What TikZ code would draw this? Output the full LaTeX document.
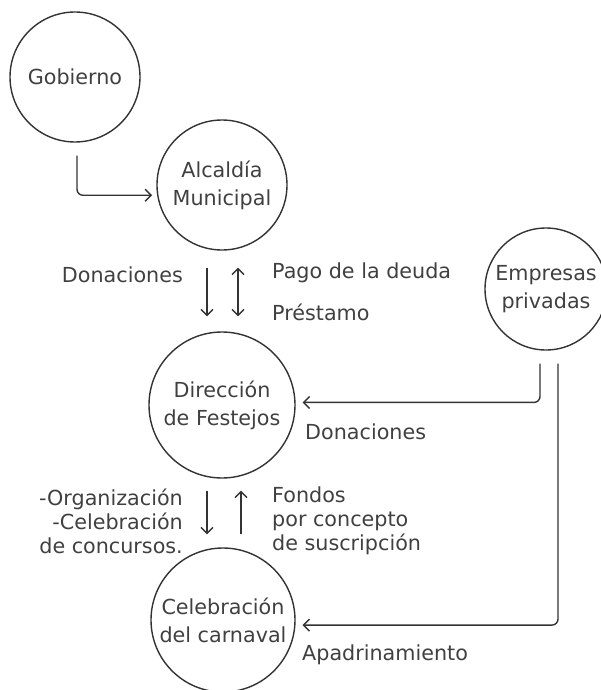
\documentclass[tikz,border=0pt]{standalone}
\usepackage{fontspec}
\setmainfont{DejaVu Sans}
\usetikzlibrary{arrows.meta}

\begin{document}
\begin{tikzpicture}[x=1pt,y=-1pt]
	\tikzset{every node/.style={font=\fontsize{20.7}{24}\selectfont,text=black!75}}
	\tikzset{entidad/.style={circle,draw=black!80,line width=1.4pt,inner sep=0pt,align=center,font=\fontsize{20.7}{28}\selectfont}}
	\tikzset{flujo/.style={draw=black!80,line width=1.4pt,-{Straight Barb[length=6pt,width=12pt]}}}
	\tikzset{flujodoble/.style={draw=black!80,line width=1.4pt,{Straight Barb[length=6pt,width=12pt]}-{Straight Barb[length=6pt,width=12pt]}}}
	\tikzset{rotulo/.style={inner sep=0pt,anchor=west,align=left}}
	\useasboundingbox (0,0) rectangle (601,690);
	\node[entidad,minimum size=130pt] (gobierno) at (75,77) {Gobierno};
	\node[entidad,minimum size=130pt] (alcaldia) at (222,185) {Alcaldía\\Municipal};
	\node[entidad,minimum size=122pt] (empresas) at (546,289) {Empresas\\privadas};
	\node[entidad,minimum size=146pt] (direccion) at (222,405) {Dirección\\de Festejos};
	\node[entidad,minimum size=144pt] (celebracion) at (223,620) {Celebración\\del carnaval};
	\node[rotulo,anchor=east,align=right] (donacionesA) at (183,275) {Donaciones};
	\node[rotulo] (pago) at (272,273) {Pago de la deuda};
	\node[rotulo] (prestamo) at (272,312) {Préstamo};
	\node[rotulo] (donacionesB) at (305,432) {Donaciones};
	\node[rotulo,anchor=east,align=right] (organizacion) at (183,521) {-Organización\\-Celebración\\de concursos.};
	\node[rotulo] (fondos) at (272,521) {Fondos\\por concepto\\de suscripción};
	\node[rotulo] (apadrinamiento) at (302,655) {Apadrinamiento};
	\draw[flujo,rounded corners=6pt,shorten >=5pt] ([xshift=2pt,yshift=-13pt]gobierno.south) |- (alcaldia.189);
	\draw[flujo,shorten <=17pt,shorten >=15pt] ([xshift=-15pt]alcaldia.south) -- ([xshift=-15pt]direccion.north);
	\draw[flujodoble,shorten <=17pt,shorten >=15pt] ([xshift=16pt]alcaldia.south) -- ([xshift=16pt]direccion.north);
	\draw[flujo,shorten <=12pt,shorten >=13pt] ([xshift=-15pt]direccion.south) -- ([xshift=-16pt]celebracion.north);
	\draw[flujo,shorten <=13pt,shorten >=12pt] ([xshift=18pt]celebracion.north) -- ([xshift=19pt]direccion.south);
	\draw[flujo,rounded corners=6pt,shorten >=7pt] ([xshift=-6pt,yshift=-13pt]empresas.south) |- (direccion.2);
	\draw[flujo,rounded corners=6pt,shorten >=7pt] ([xshift=12pt,yshift=-13pt]empresas.south) |- (celebracion.356);
\end{tikzpicture}
\end{document}
